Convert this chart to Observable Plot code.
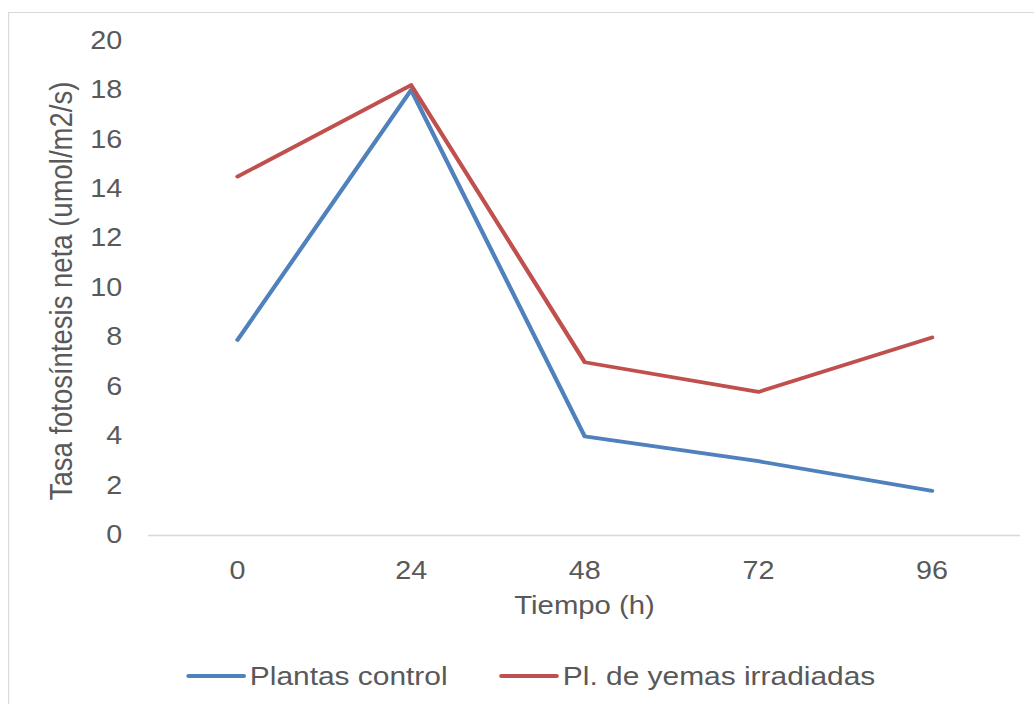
<!DOCTYPE html>
<html>
<head>
<meta charset="utf-8">
<script src="https://cdn.jsdelivr.net/npm/d3@7"></script>
<script src="https://cdn.jsdelivr.net/npm/@observablehq/plot@0.6"></script>
<style>
  html, body { margin: 0; padding: 0; background: #ffffff; }
  body { width: 1034px; height: 704px; overflow: hidden; position: relative; font-family: "Liberation Sans", Arial, sans-serif; }
  #wrap { position: absolute; left: 0; top: 0; height: 704px; transform-origin: 0 0; }
  #frame { position: absolute; left: 7px; top: 12px; width: 2000px; height: 2000px;
           border-left: 1.5px solid #d9d9d9; border-top: 1.5px solid #d9d9d9; }
  #chart { position: absolute; left: 0; top: 0; }
  #legend { position: absolute; top: 660px; left: 0; display: flex; align-items: center;
            font-size: 26px; line-height: 32px; color: #595959; white-space: nowrap; }
  .item { position: absolute; display: flex; align-items: center; top: 0; }
  .sw { width: 52px; height: 4.5px; border-radius: 2px; margin-right: 3.5px; }
</style>
</head>
<body>
<div id="wrap">
  <div id="frame"></div>
  <div id="chart"></div>
  <div id="legend"></div>
</div>
<script>
// ---- data ----
const hours = ["0", "24", "48", "72", "96"];
const control = [7.9, 18.0, 4.0, 3.0, 1.8];
const irradiadas = [14.5, 18.2, 7.0, 5.8, 8.0];
const seriesNames = ["Plantas control", "Pl. de yemas irradiadas"];
const seriesColors = ["#4F81BD", "#C0504D"];
const yTicks = [0, 2, 4, 6, 8, 10, 12, 14, 16, 18, 20];
const xTitle = "Tiempo (h)";
const yTitle = "Tasa fotosíntesis neta (umol/m2/s)";

// horizontal stretch of the reference picture
const stretch = 1.15;
const W = 1034 / stretch;

const rows = [
  ...hours.map((h, i) => ({hour: h, value: control[i], series: seriesNames[0]})),
  ...hours.map((h, i) => ({hour: h, value: irradiadas[i], series: seriesNames[1]}))
];

const wrap = document.getElementById("wrap");
wrap.style.width = W + "px";
wrap.style.transform = `scaleX(${stretch})`;

const chart = Plot.plot({
  width: W,
  height: 640,
  marginLeft: 148 / stretch,
  marginRight: 14 / stretch,
  marginTop: 40,
  marginBottom: 105,
  style: {fontFamily: "'Liberation Sans', Arial, sans-serif", fontSize: "25px", color: "#595959", background: "transparent", overflow: "visible"},
  x: {type: "point", domain: hours, padding: 0.5, label: null, tickSize: 0, tickPadding: 26},
  y: {domain: [0, 20], ticks: yTicks, label: null, tickSize: 0, tickPadding: 23},
  color: {domain: seriesNames, range: seriesColors},
  marks: [
    Plot.ruleY([0], {stroke: "#d9d9d9", strokeWidth: 1.5}),
    Plot.line(rows, {x: "hour", y: "value", z: "series", stroke: "series", strokeWidth: 3.8, strokeLinejoin: "round", strokeLinecap: "round"}),
    Plot.text([yTitle], {text: d => d, frameAnchor: "left", textAnchor: "middle", lineAnchor: "middle", rotate: -90, dx: -75, dy: 3, fontSize: 27.5, fill: "#595959"}),
    Plot.text([xTitle], {text: d => d, frameAnchor: "bottom", textAnchor: "middle", lineAnchor: "middle", dy: 70, fontSize: 25.5, fill: "#595959"})
  ]
});
document.getElementById("chart").appendChild(chart);

// legend
const legend = document.getElementById("legend");
const lefts = [186 / stretch, 499 / stretch];
seriesNames.forEach((name, i) => {
  const item = document.createElement("div");
  item.className = "item";
  item.style.left = lefts[i] + "px";
  const sw = document.createElement("span");
  sw.className = "sw";
  sw.style.background = seriesColors[i];
  const label = document.createElement("span");
  label.textContent = name;
  item.appendChild(sw);
  item.appendChild(label);
  legend.appendChild(item);
});
</script>
</body>
</html>
